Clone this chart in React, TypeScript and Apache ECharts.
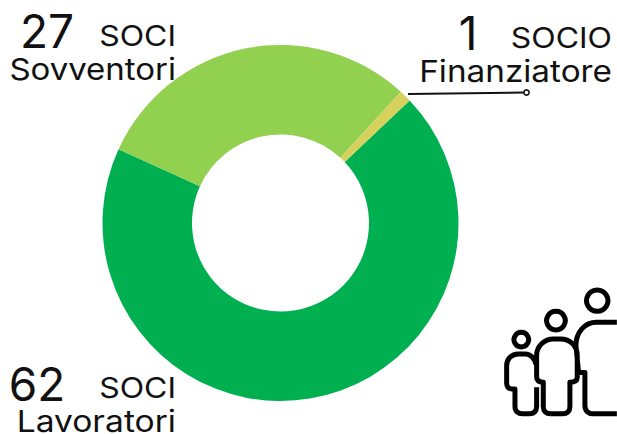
import React, { useEffect, useRef } from "react";
import * as echarts from "echarts";

const categories = ["Lavoratori", "Sovventori", "Finanziatore"];
const values = [62, 27, 1];
const sliceColors = ["#00B050", "#92D050", "#D6D05C"];
const kinds = ["SOCI", "SOCI", "SOCIO"];

const iconD =
  "M322 48a32 32 0 1 0 0.01 0Z " +
  "M198 112a28 28 0 1 0 0.01 0Z " +
  "M94 175a22 22 0 1 0 0.01 0Z " +
  "M381 145L320 145C285 145 258 175 258 215L266 296L285 296L285 395C285 412 296 420 310 420L381 420 " +
  "M262 310C262 322 252 325 240 325L240 398C240 412 232 420 218 420L182 420C168 420 160 412 160 398L160 325C148 325 140 320 140 308L140 245C140 215 165 195 190 195L212 195C240 195 262 215 262 245Z " +
  "M140 340L140 398C140 412 132 420 118 420L98 420C84 420 75 412 75 398L75 345L65 345C55 345 50 338 50 328L50 275C50 255 65 240 85 240L105 240C122 240 137 255 137 272";

echarts.graphic.registerShape("familyIcon", echarts.graphic.extendPath(iconD, {}));

const font = "Inter, sans-serif";
const ink = "#111111";

function txt(text: string, x: number, baseline: number, size: number, align: string, scaleX = 1) {
  return {
    type: "text",
    x,
    y: baseline + size * 0.12,
    scaleX,
    silent: true,
    style: {
      text,
      fontFamily: font,
      fontSize: size,
      fontWeight: 400,
      fill: ink,
      textAlign: align,
      textVerticalAlign: "bottom",
    },
  };
}

export default function App() {
  const ref = useRef<HTMLDivElement>(null);
  useEffect(() => {
    document.body.style.margin = "0";
    const chart = echarts.init(ref.current!, null, { renderer: "svg" });
    chart.setOption({
      animation: false,
      backgroundColor: "#ffffff",
      series: [
        {
          type: "pie",
          center: [280.5, 223],
          radius: [88.5, 178],
          startAngle: 43.5,
          clockwise: true,
          silent: true,
          label: { show: false },
          labelLine: { show: false },
          data: categories.map((name, i) => ({
            name,
            value: values[i],
            itemStyle: { color: sliceColors[i] },
          })),
        },
      ],
      graphic: [
        txt(String(values[1]), 47, 48, 46, "center"),
        txt(kinds[1], 176, 46, 28, "right", 1.14),
        txt(categories[1], 176, 80, 30, "right", 1.1),
        txt(String(values[2]), 468, 50, 46, "center"),
        txt(kinds[2], 612, 48, 28, "right", 1.14),
        txt(categories[2], 612, 83, 30, "right", 1.11),
        txt(String(values[0]), 37, 401, 46, "center"),
        txt(kinds[0], 176, 398, 28, "right", 1.14),
        txt(categories[0], 176, 433, 30, "right", 1.12),
        {
          type: "line",
          silent: true,
          shape: { x1: 408, y1: 94, x2: 524, y2: 92.5 },
          style: { stroke: ink, lineWidth: 2 },
        },
        {
          type: "circle",
          silent: true,
          shape: { cx: 526.5, cy: 92.5, r: 2.6 },
          style: { fill: "#fff", stroke: ink, lineWidth: 1.6 },
        },
        {
          type: "familyIcon",
          silent: true,
          x: 490,
          y: 274,
          scaleX: 1 / 3,
          scaleY: 1 / 3,
          style: { fill: "none", stroke: "#000", lineWidth: 15, lineJoin: "round" },
        },
      ],
    });
    return () => chart.dispose();
  }, []);
  return <div ref={ref} style={{ width: 617, height: 434 }} />;
}
